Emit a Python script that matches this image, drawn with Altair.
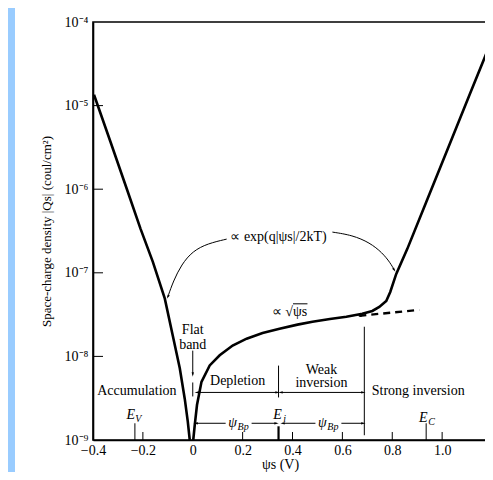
import json
import altair as alt
import pandas as pd

# ---- main curve ----
psi_acc = [-0.396, -0.33, -0.264, -0.21, -0.16, -0.112, -0.08, -0.052, -0.032, -0.02, -0.012]
qs_acc = [1.35e-5, 3.7e-6, 1.0e-6, 3.4e-7, 1.35e-7, 4.9e-8, 1.77e-8, 7.2e-9, 3.1e-9, 1.67e-9, 1.0e-9]

psi_inv = [0.002, 0.008, 0.017, 0.035, 0.068, 0.108, 0.16, 0.216, 0.28, 0.348, 0.42, 0.48,
           0.55, 0.616, 0.68, 0.72, 0.748, 0.776, 0.792, 0.816, 0.86, 0.936, 1.028, 1.108, 1.2]
qs_inv = [1.0e-9, 1.51e-9, 2.62e-9, 4.96e-9, 7.8e-9, 1.03e-8, 1.35e-8, 1.63e-8, 1.9e-8, 2.14e-8,
          2.4e-8, 2.6e-8, 2.8e-8, 2.98e-8, 3.24e-8, 3.5e-8, 3.9e-8, 4.6e-8, 5.9e-8, 9.7e-8,
          1.92e-7, 6.98e-7, 3.33e-6, 1.3e-5, 6.2e-5]

psi_dash = [0.668, 0.908]
qs_dash = [3.06e-8, 3.6e-8]

# ---- axes ----
x_ticks = [-0.4, -0.2, 0, 0.2, 0.4, 0.6, 0.8, 1.0]
x_tick_labels = ["\u22120.4", "\u22120.2", "0", "0.2", "0.4", "0.6", "0.8", "1.0"]
y_ticks = [1e-9, 1e-8, 1e-7, 1e-6, 1e-5, 1e-4]
y_tick_labels = ["10\u207b\u2079", "10\u207b\u2078", "10\u207b\u2077", "10\u207b\u2076", "10\u207b\u2075", "10\u207b\u2074"]
x_inner_ticks = [-0.2, 0.2, 0.4, 0.6, 0.8, 1.0]
y_inner_ticks = [1e-8, 1e-7, 1e-6, 1e-5]

# ---- annotations (x in V, y as log10 of charge) ----
seg_x1 = [0.016, 0.352, 0.012, 0.236, 0.36, 0.596, 0.0, 0.0, 0.344, 0.688, -0.232, 0.936, 0.402]
seg_x2 = [0.34, 0.684, 0.132, 0.336, 0.492, 0.684, 0.0, 0.0, 0.344, 0.688, -0.232, 0.936, 0.46]
seg_e1 = [-8.431, -8.431, -8.80, -8.80, -8.80, -8.80, -7.931, -8.312, -8.110, -7.645, -8.80, -8.80, -7.371]
seg_e2 = [-8.431, -8.431, -8.80, -8.80, -8.80, -8.80, -8.217, -8.479, -8.491, -8.943, -9.0, -9.0, -7.371]
thick_x = [0.344]
thick_e1 = [-8.836]
thick_e2 = [-9.0]

arrow_x = [0.0, 0.016, 0.34, 0.352, 0.684, 0.012, 0.336, 0.36, 0.684, 0.668, -0.10, 0.808]
arrow_e = [-8.217, -8.431, -8.431, -8.431, -8.431, -8.80, -8.80, -8.80, -8.80, -7.514, -7.288, -6.966]
arrow_ang = [180, 270, 90, 270, 90, 270, 90, 270, 90, 270, 207, 148]

arc_left_x = [0.136, 0.06, 0.0, -0.045, -0.078, -0.10]
arc_left_e = [-6.597, -6.65, -6.74, -6.90, -7.10, -7.288]
arc_right_x = [0.56, 0.64, 0.71, 0.76, 0.792, 0.808]
arc_right_e = [-6.513, -6.55, -6.64, -6.76, -6.88, -6.966]

txt = ["Accumulation", "Depletion", "Strong inversion", "\u221d exp(q|\u03c8s|/2kT)", "\u221d \u221a\u03c8s"]
txt_x = [-0.224, 0.18, 0.904, 0.344, 0.388]
txt_e = [-8.419, -8.30, -8.419, -6.573, -7.466]

txt2 = ["Flat", "band", "Weak", "inversion"]
txt2_x = [0.0, 0.0, 0.516, 0.516]
txt2_e = [-7.69, -7.859, -8.157, -8.324]

ital = ["E", "E", "E", "\u03c8", "\u03c8"]
ital_x = [-0.248, 0.34, 0.924, 0.16, 0.52]
ital_e = [-8.705, -8.705, -8.741, -8.80, -8.80]
sub = ["V", "i", "C", "Bp", "Bp"]
sub_x = [-0.218, 0.368, 0.958, 0.202, 0.562]
sub_e = [-8.753, -8.753, -8.789, -8.848, -8.848]

W, H = 399, 418
FONT = "Liberation Serif"

x_expr = json.dumps(x_tick_labels) + "[round((datum.value + 0.4) / 0.2)]"
y_expr = json.dumps(y_tick_labels) + "[round(log(datum.value) / log(10)) + 9]"

xscale = alt.Scale(domain=[-0.4, 1.2], nice=False, zero=False)
yscale = alt.Scale(type="log", domain=[1e-9, 1e-4], nice=False)
xaxis = alt.Axis(values=x_ticks, labelExpr=x_expr, ticks=False, grid=False, labelFlush=False,
                 title="\u03c8s (V)", titleX=187, titleY=17, titleBaseline="top", labelPadding=3)
yaxis = alt.Axis(values=y_ticks, labelExpr=y_expr, ticks=False, grid=False, labelFlush=False,
                 title="Space-charge density |Qs| (coul/cm\u00b2)", labelPadding=5,
                 titlePadding=11, titleFontSize=13)


def X(f):
    return alt.X(f, type="quantitative", scale=xscale, axis=xaxis)


def Y(f):
    return alt.Y(f, type="quantitative", scale=yscale, axis=yaxis)


curve = pd.DataFrame({
    "psi": psi_acc + psi_inv,
    "qs": qs_acc + qs_inv,
    "branch": ["acc"] * len(psi_acc) + ["inv"] * len(psi_inv),
    "i": list(range(len(psi_acc))) + list(range(len(psi_inv))),
})
dash = pd.DataFrame({"psi": psi_dash, "qs": qs_dash})
segs = pd.DataFrame({"x": seg_x1, "x2": seg_x2,
                     "y": [10 ** e for e in seg_e1], "y2": [10 ** e for e in seg_e2]})
thick = pd.DataFrame({"x": thick_x, "y": [10 ** e for e in thick_e1], "y2": [10 ** e for e in thick_e2]})
arrows = pd.DataFrame({"x": arrow_x, "y": [10 ** e for e in arrow_e], "ang": arrow_ang})
arcs = pd.DataFrame({
    "x": arc_left_x + arc_right_x,
    "y": [10 ** e for e in arc_left_e + arc_right_e],
    "arc": ["l"] * len(arc_left_x) + ["r"] * len(arc_right_x),
    "i": list(range(len(arc_left_x))) + list(range(len(arc_right_x))),
})
texts = pd.DataFrame({"x": txt_x, "y": [10 ** e for e in txt_e], "t": txt})
texts2 = pd.DataFrame({"x": txt2_x, "y": [10 ** e for e in txt2_e], "t": txt2})
itals = pd.DataFrame({"x": ital_x, "y": [10 ** e for e in ital_e], "t": ital})
subs = pd.DataFrame({"x": sub_x, "y": [10 ** e for e in sub_e], "t": sub})
xt = pd.DataFrame({"x": x_inner_ticks})
yt = pd.DataFrame({"y": y_inner_ticks})

strip = alt.Chart(pd.DataFrame({"a": [0]})).mark_rect(color="#99CCFF").encode(
    x=alt.value(-85), x2=alt.value(-78), y=alt.value(-14), y2=alt.value(H + 32))

main = alt.Chart(curve).mark_line(color="black", strokeWidth=2.6).encode(
    x=X("psi"), y=Y("qs"), detail="branch:N", order="i:Q")
dashed = alt.Chart(dash).mark_line(color="black", strokeWidth=2.4, strokeDash=[7, 5]).encode(
    x=X("psi"), y=Y("qs"))
seg_l = alt.Chart(segs).mark_rule(color="black", strokeWidth=1).encode(
    x=X("x"), x2="x2:Q", y=Y("y"), y2="y2:Q")
thick_l = alt.Chart(thick).mark_rule(color="black", strokeWidth=2.2).encode(
    x=X("x"), y=Y("y"), y2="y2:Q")
arc_l = alt.Chart(arcs).mark_line(color="black", strokeWidth=1, interpolate="basis").encode(
    x=X("x"), y=Y("y"), detail="arc:N", order="i:Q")
arrow_l = alt.Chart(arrows).mark_point(
    shape="M0,-0.6L0.3,0.6L-0.3,0.6Z", filled=True, color="black", size=55, opacity=1).encode(
    x=X("x"), y=Y("y"), angle=alt.Angle("ang:Q", scale=None))
text_l = alt.Chart(texts).mark_text(font=FONT, fontSize=14, color="black", baseline="middle").encode(
    x=X("x"), y=Y("y"), text="t:N")
text2_l = alt.Chart(texts2).mark_text(font=FONT, fontSize=14, color="black", baseline="middle").encode(
    x=X("x"), y=Y("y"), text="t:N")
ital_l = alt.Chart(itals).mark_text(font=FONT, fontSize=14, fontStyle="italic", color="black",
                                     baseline="middle").encode(x=X("x"), y=Y("y"), text="t:N")
sub_l = alt.Chart(subs).mark_text(font=FONT, fontSize=10, fontStyle="italic", color="black",
                                   baseline="middle").encode(x=X("x"), y=Y("y"), text="t:N")
xtick_l = alt.Chart(xt).mark_rule(color="black", strokeWidth=1).encode(
    x=X("x"), y=alt.value(H), y2=alt.value(H - 8))
ytick_l = alt.Chart(yt).mark_rule(color="black", strokeWidth=1).encode(
    y=Y("y"), x=alt.value(0), x2=alt.value(10))

chart = alt.layer(strip, seg_l, thick_l, arc_l, dashed, main, arrow_l, text_l, text2_l, ital_l, sub_l,
                  xtick_l, ytick_l).properties(
    width=W, height=H,
    autosize=alt.AutoSizeParams(type="none"),
    padding={"left": 85, "top": 14, "right": -7, "bottom": 32},
).configure_view(stroke="black", strokeWidth=1.6).configure_axis(
    labelFont=FONT, labelFontSize=14, labelColor="black",
    titleFont=FONT, titleFontSize=14, titleFontWeight="normal", titleColor="black",
    domainColor="black", domainWidth=1.6,
)

chart.save("out.html", embed_options={"renderer": "svg", "actions": False})
